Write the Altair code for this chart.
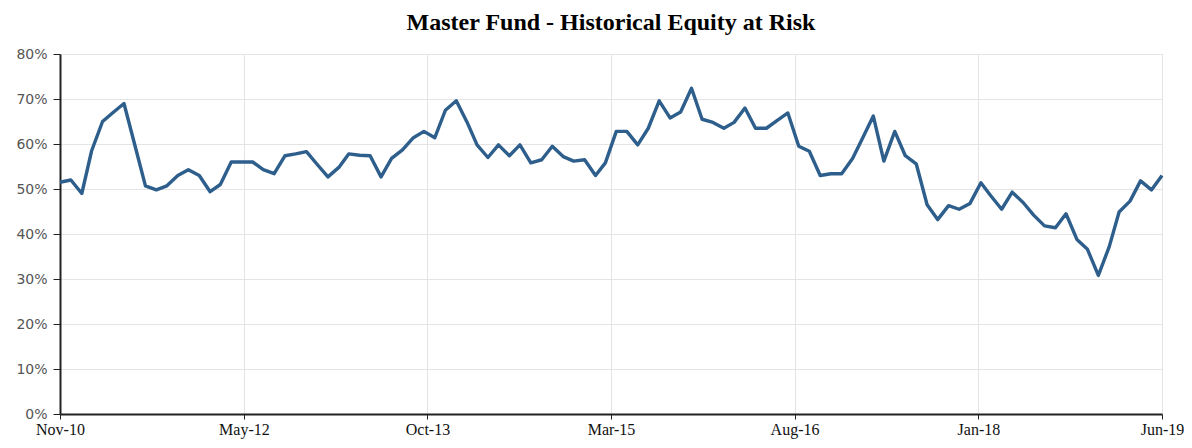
import altair as alt
import pandas as pd

# Monthly month-end observations, Nov-2010 .. Jun-2019 (percent)
equity_at_risk = [
    51.5, 52.0, 49.0, 58.5, 65.0, 67.0, 69.0, 60.0, 50.7, 49.8,
    50.7, 53.0, 54.3, 53.0, 49.4, 51.0, 56.0, 56.0, 56.0, 54.3,
    53.4, 57.4, 57.8, 58.3, 55.5, 52.7, 54.8, 57.8, 57.5, 57.4,
    52.7, 56.8, 58.7, 61.4, 62.8, 61.4, 67.5, 69.6, 64.8, 59.8,
    57.0, 59.8, 57.4, 59.8, 55.8, 56.5, 59.5, 57.2, 56.2, 56.5,
    53.0, 55.8, 62.8, 62.8, 59.8, 63.5, 69.6, 65.8, 67.1, 72.4,
    65.5, 64.8, 63.5, 64.8, 68.0, 63.5, 63.5, 65.2, 66.9, 59.5,
    58.4, 53.0, 53.4, 53.4, 56.8, 61.2, 66.2, 56.2, 62.8, 57.4,
    55.6, 46.5, 43.2, 46.3, 45.5, 46.8, 51.4, 48.5, 45.5, 49.3,
    47.0, 44.2, 41.8, 41.4, 44.5, 38.8, 36.6, 30.8, 37.2, 44.9,
    47.3, 51.8, 49.8, 53.0,
]
month_ends = pd.date_range("2010-11-30", periods=len(equity_at_risk), freq="ME")
dates = [d.strftime("%Y-%m-%dT00:00:00") for d in month_ends]

# Axis tick dates (evenly spaced in days, labelled Mon-YY)
tick_dates = [
    (2010, 11, 30), (2012, 5, 6), (2013, 10, 10), (2015, 3, 16),
    (2016, 8, 19), (2018, 1, 24), (2019, 6, 30),
]
y_ticks = [0, 0.1, 0.2, 0.3, 0.4, 0.5, 0.6, 0.7, 0.8]

df = pd.DataFrame({"date": dates, "value": [v / 100 for v in equity_at_risk]})

tick_vals = [alt.DateTime(year=y, month=m, date=d) for (y, m, d) in tick_dates]

chart = (
    alt.Chart(df)
    .mark_line(color="#2E5E8C", strokeWidth=3.4, strokeJoin="round")
    .encode(
        x=alt.X(
            "date:T",
            title=None,
            scale=alt.Scale(domain=[tick_vals[0], tick_vals[-1]]),
            axis=alt.Axis(
                values=tick_vals,
                format="%b-%y",
                labelFont="Liberation Serif",
                labelFontSize=16,
                labelColor="#111111",
                labelPadding=2,
                tickSize=5,
                tickColor="#222222",
                domainColor="#222222",
                domainWidth=2,
                grid=True,
                gridColor="#e4e4e4",
                labelFlush=False,
                labelOverlap=False,
            ),
        ),
        y=alt.Y(
            "value:Q",
            title=None,
            scale=alt.Scale(domain=[0, 0.8], nice=False, zero=True),
            axis=alt.Axis(
                values=y_ticks,
                format=".0%",
                labelFont="DejaVu Sans",
                labelFontSize=14,
                labelColor="#555555",
                labelPadding=6,
                tickSize=7,
                tickColor="#222222",
                domainColor="#222222",
                domainWidth=2,
                grid=True,
                gridColor="#e4e4e4",
            ),
        ),
    )
    .properties(
        width=1102,
        height=360,
        autosize="none",
        padding={"left": 52, "top": 46, "right": 22, "bottom": 26},
        title=alt.TitleParams(
            "Master Fund - Historical Equity at Risk",
            font="Liberation Serif",
            fontSize=24,
            fontWeight="bold",
            color="#000000",
            anchor="middle",
            offset=12,
        ),
    )
    .configure_view(stroke=None)
    .configure(background="white")
)

chart.save("out.html", embed_options={"renderer": "svg", "actions": False})
